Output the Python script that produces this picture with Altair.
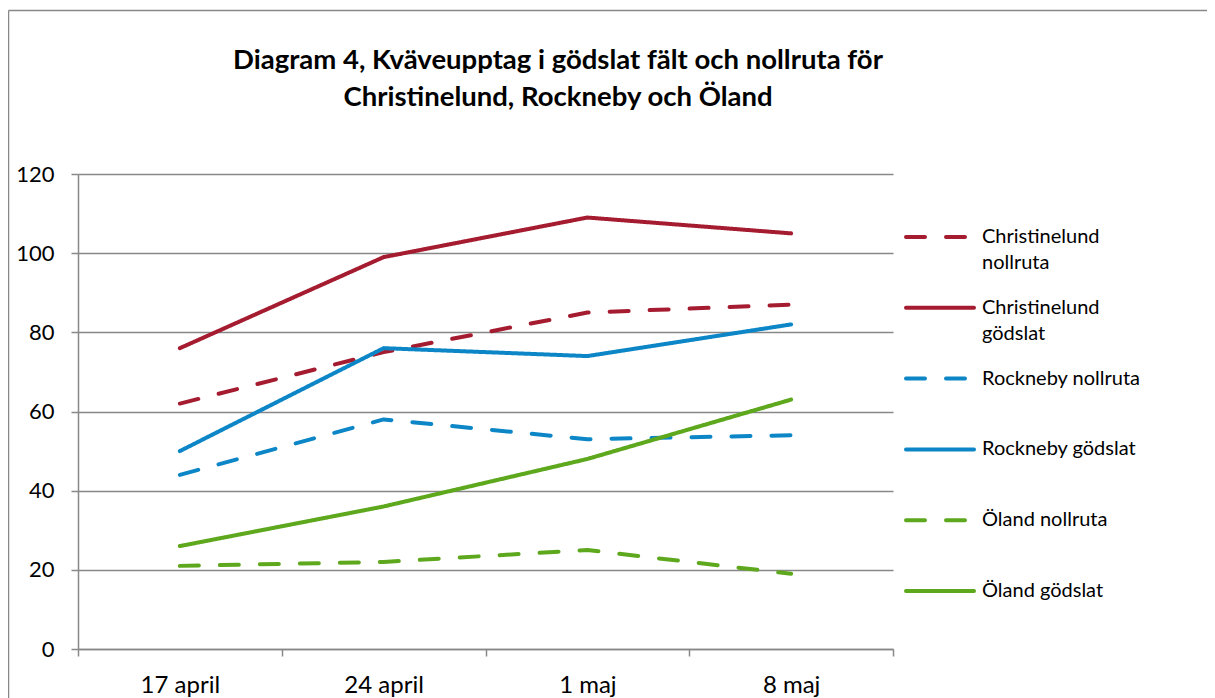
import altair as alt
import pandas as pd

# ---- data -------------------------------------------------------------
dates = ["17 april", "24 april", "1 maj", "8 maj"]
series = [
    "Christinelund nollruta",
    "Christinelund gödslat",
    "Rockneby nollruta",
    "Rockneby gödslat",
    "Öland nollruta",
    "Öland gödslat",
]
christinelund_nollruta = [62, 75, 85, 87]
christinelund_godslat = [76, 99, 109, 105]
rockneby_nollruta = [44, 58, 53, 54]
rockneby_godslat = [50, 76, 74, 82]
oland_nollruta = [21, 22, 25, 19]
oland_godslat = [26, 36, 48, 63]
legend_line1 = ["Christinelund", "Christinelund", "Rockneby nollruta",
                "Rockneby gödslat", "Öland nollruta", "Öland gödslat"]
legend_line2 = ["nollruta", "gödslat", "", "", "", ""]
y_ticks = [0, 20, 40, 60, 80, 100, 120]
title_lines = ["Diagram 4, Kväveupptag i gödslat fält och nollruta för",
               "Christinelund, Rockneby och Öland"]

# ---- styles -----------------------------------------------------------
RED, BLUE, GREEN = "#A51C30", "#0C86C6", "#5EA81E"
colors = [RED, RED, BLUE, BLUE, GREEN, GREEN]
DASH, SOLID = [19, 21], [1, 0]
dashes = [DASH, SOLID, DASH, SOLID, DASH, SOLID]
GRAY = "#888888"
FONT = "Lato"

values = [christinelund_nollruta, christinelund_godslat, rockneby_nollruta,
          rockneby_godslat, oland_nollruta, oland_godslat]
rows = []
for s, vals in zip(series, values):
    for d, v in zip(dates, vals):
        rows.append({"series": s, "date": d, "value": v})
df = pd.DataFrame(rows)
leg = pd.DataFrame({"series": series, "l1": legend_line1, "l2": legend_line2})

W, H = 815, 475

color_scale = alt.Scale(domain=series, range=colors)
dash_scale = alt.Scale(domain=series, range=dashes)

# chart-area frame (top and left edges; right and bottom lie outside the window)
one = pd.DataFrame({"a": [0]})
frame_top = alt.Chart(one).mark_rule(stroke=GRAY, strokeWidth=1.5).encode(
    x=alt.value(-69.5), x2=alt.value(W + 330), y=alt.value(-163.5)
)
frame_left = alt.Chart(one).mark_rule(stroke=GRAY, strokeWidth=1.5).encode(
    x=alt.value(-69.5), y=alt.value(-163.5), y2=alt.value(H + 60)
)

lines = alt.Chart(df).mark_line(
    strokeWidth=4, strokeCap="round", strokeJoin="round"
).encode(
    x=alt.X("date:N", sort=dates, bandPosition=0.5,
            scale=alt.Scale(type="band", paddingInner=0, paddingOuter=0),
            axis=alt.Axis(title=None, tickBand="extent", labelAngle=0,
                          tickSize=7, labelPadding=17, grid=False,
                          labelFontSize=24)),
    y=alt.Y("value:Q", scale=alt.Scale(domain=[0, 120], nice=False),
            axis=alt.Axis(title=None, values=y_ticks, grid=True, tickSize=7,
                          labelPadding=17, labelFontSize=22)),
    color=alt.Color("series:N", scale=color_scale, legend=None),
    strokeDash=alt.StrokeDash("series:N", scale=dash_scale, legend=None),
    detail="series:N",
)

leg_y = alt.Y("series:N", sort=series,
              scale=alt.Scale(type="point", range=[63, 417], padding=0),
              axis=None)

leg_sym = alt.Chart(leg).mark_rule(strokeWidth=4, strokeCap="round").encode(
    x=alt.value(W + 13), x2=alt.value(W + 81),
    y=leg_y,
    color=alt.Color("series:N", scale=color_scale, legend=None),
    strokeDash=alt.StrokeDash("series:N", scale=dash_scale, legend=None),
)

leg_t1 = alt.Chart(leg).mark_text(
    align="left", baseline="middle", fontSize=20, font=FONT, color="black"
).encode(x=alt.value(W + 89), y=leg_y, text="l1:N")

leg_t2 = alt.Chart(leg).mark_text(
    align="left", baseline="middle", fontSize=20, font=FONT, color="black", dy=26
).encode(x=alt.value(W + 89), y=leg_y, text="l2:N")

chart = alt.layer(frame_top, frame_left, lines, leg_sym, leg_t1, leg_t2).resolve_scale(
    y="independent"
).properties(
    width=W, height=H,
    title=alt.TitleParams(text=title_lines, anchor="middle", frame="group",
                          dx=72.5, offset=-102, fontSize=27.5, font=FONT,
                          fontWeight="bold", lineHeight=37, color="black"),
    autosize=alt.AutoSizeParams(type="none"),
    padding={"left": 70, "top": 166, "right": 314, "bottom": 52},
).configure_view(stroke=None).configure_axis(
    domainColor=GRAY, tickColor=GRAY, gridColor=GRAY, domainWidth=1.5,
    tickWidth=1.5, gridWidth=1.5, labelFont=FONT, labelColor="black",
)

chart.save("out.html", embed_options={"renderer": "svg", "actions": False})
